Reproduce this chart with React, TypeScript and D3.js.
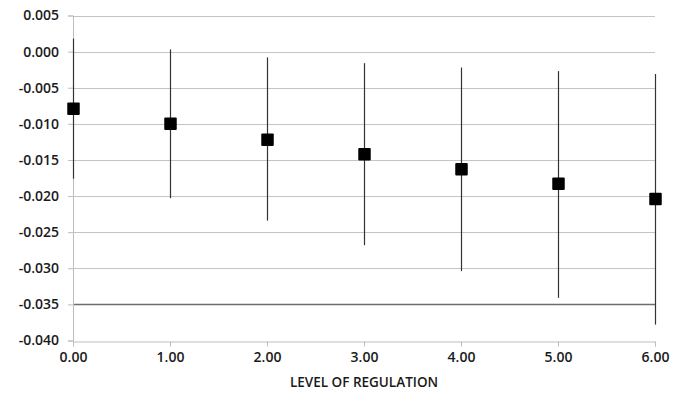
import React, { useEffect, useRef } from 'react';
import * as d3 from 'd3';

const levels = [0, 1, 2, 3, 4, 5, 6];
const estimates = [-0.0079, -0.0100, -0.0122, -0.0142, -0.0163, -0.0183, -0.0204];
const upper = [0.0018, 0.0003, -0.0008, -0.0016, -0.0022, -0.0027, -0.0031];
const lower = [-0.0176, -0.0203, -0.0234, -0.0268, -0.0304, -0.0341, -0.0378];
const yTicks = [0.005, 0, -0.005, -0.01, -0.015, -0.02, -0.025, -0.03, -0.035, -0.04];
const xTitle = 'LEVEL OF REGULATION';

const App = () => {
  const svgRef = useRef<SVGSVGElement | null>(null);

  useEffect(() => {
    const svg = d3.select(svgRef.current);
    svg.selectAll('*').remove();

    const width = 683;
    const height = 393;
    const margin = { top: 15.5, right: 28, bottom: 52.5, left: 73 };
    const font = "'Open Sans', 'Liberation Sans', sans-serif";

    const x = d3.scaleLinear().domain([0, 6]).range([margin.left, width - margin.right]);
    const y = d3.scaleLinear().domain([-0.04, 0.005]).range([height - margin.bottom, margin.top]);

    // gridlines
    svg.append('g')
      .selectAll('line')
      .data(yTicks.filter(d => d > -0.04))
      .join('line')
      .attr('x1', x(0))
      .attr('x2', x(6))
      .attr('y1', d => Math.round(y(d)) + 0.5)
      .attr('y2', d => Math.round(y(d)) + 0.5)
      .attr('stroke', d => (Math.abs(d + 0.035) < 1e-9 ? '#6e6e6e' : '#c4c4c4'))
      .attr('stroke-width', d => (Math.abs(d + 0.035) < 1e-9 ? 1.4 : 1));

    // y axis
    const yAxis = svg.append('g')
      .attr('transform', `translate(${x(0)},0)`)
      .call(d3.axisLeft(y).tickValues(yTicks).tickFormat(d3.format('.3f')).tickSize(5).tickPadding(9));
    yAxis.select('.domain').attr('stroke', '#bdbdbd');
    yAxis.selectAll('.tick line').attr('stroke', '#bdbdbd');
    yAxis.selectAll('.tick text')
      .attr('fill', '#1a1a1a')
      .attr('font-family', font)
      .attr('font-size', 14)
      .attr('font-weight', 600)
      .text(d => d3.format('.3f')(d as number).replace('−', '-'));

    // x axis
    const xAxis = svg.append('g')
      .attr('transform', `translate(0,${Math.round(y(-0.04)) + 0.5})`)
      .call(d3.axisBottom(x).tickValues(levels).tickFormat(d3.format('.2f')).tickSize(5).tickPadding(6));
    xAxis.select('.domain').attr('stroke', '#bdbdbd');
    xAxis.selectAll('.tick line').attr('stroke', '#bdbdbd');
    xAxis.selectAll('.tick text')
      .attr('fill', '#1a1a1a')
      .attr('font-family', font)
      .attr('font-size', 14)
      .attr('font-weight', 600);

    svg.append('text')
      .attr('x', x(3))
      .attr('y', 387)
      .attr('text-anchor', 'middle')
      .attr('fill', '#1a1a1a')
      .attr('font-family', font)
      .attr('font-size', 13.5)
      .attr('font-weight', 600)
      .text(xTitle);

    // error bars
    svg.append('g')
      .selectAll('line')
      .data(levels)
      .join('line')
      .attr('x1', (d) => Math.round(x(d)) + 0.5)
      .attr('x2', (d) => Math.round(x(d)) + 0.5)
      .attr('y1', (d, i) => y(upper[i]))
      .attr('y2', (d, i) => y(lower[i]))
      .attr('stroke', '#333')
      .attr('stroke-width', 1.2);

    // markers
    const s = 12.5;
    svg.append('g')
      .selectAll('rect')
      .data(levels)
      .join('rect')
      .attr('x', (d) => Math.round(x(d)) + 0.5 - s / 2)
      .attr('y', (d, i) => y(estimates[i]) - s / 2)
      .attr('width', s)
      .attr('height', s)
      .attr('rx', 1)
      .attr('fill', '#000');
  }, []);

  return (
    <svg
      ref={svgRef}
      width={683}
      height={393}
      style={{ position: 'absolute', left: 0, top: 0, background: '#fff' }}
    />
  );
};

export default App;
